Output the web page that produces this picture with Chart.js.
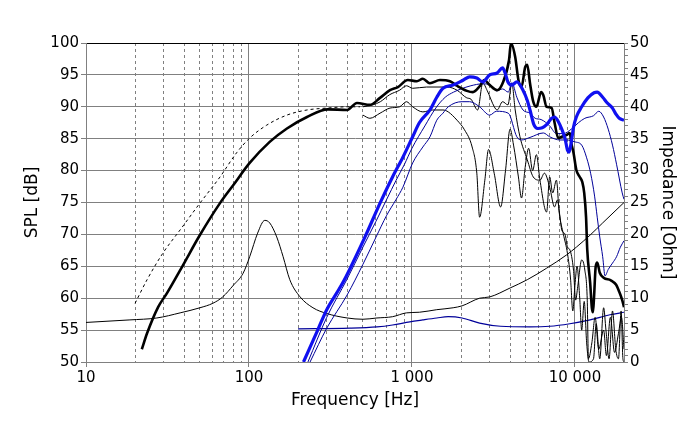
<!DOCTYPE html>
<html>
<head>
<meta charset="utf-8">
<script src="https://cdn.jsdelivr.net/npm/chart.js@4.4.0/dist/chart.umd.min.js"></script>
<style>
  body { margin: 0; background: #fff; }
  #wrap { width: 700px; height: 426px; }
</style>
</head>
<body>
<div id="wrap"><canvas id="chart" width="700" height="426"></canvas></div>
<script>
// grid / tick values
const xGridValues = [10, 20, 30, 40, 50, 60, 70, 80, 90,
  100, 200, 300, 400, 500, 600, 700, 800, 900,
  1000, 2000, 3000, 4000, 5000, 6000, 7000, 8000, 9000,
  10000, 20000];
const xLabelValues = [10, 100, 1000, 10000];
const xLabelTexts = ['10', '100', '1 000', '10 000'];

// main SPL (thick black)
const splMainFreq = [22, 23.7, 27.7, 31.4, 39.4, 50, 66.4, 80, 101, 134, 171, 227, 305, 400, 460, 552, 637, 733, 820, 944, 1072, 1166, 1288, 1485, 1710, 1888, 2174, 2366, 2600, 2780, 3000, 3330, 3600, 3940, 4050, 4300, 4500, 4700, 4950, 5100, 5300, 5550, 5800, 6200, 6400, 6700, 7200, 7500, 7900, 8300, 8900, 9300, 9500, 9800, 10200, 10700, 11100, 11400, 11700, 11900, 12400, 12700, 12900, 13100, 13400, 13700, 14200, 15000, 16600, 17900, 18700, 19500, 20000];
const splMainDb = [52, 54.5, 58.6, 60.8, 65.2, 69.9, 74.9, 77.7, 81.2, 84.5, 86.6, 88.4, 89.6, 89.5, 90.6, 90.3, 91.4, 92.6, 93.1, 94.2, 94.0, 94.4, 93.7, 94.2, 94.0, 93.3, 92.5, 92.3, 93.2, 94.2, 93.4, 92.6, 93.7, 97.3, 100, 97.8, 94.2, 93.1, 96.2, 96.6, 93.7, 90.8, 90.0, 92.3, 91.8, 90.0, 89.8, 87.5, 85.1, 85.3, 85.6, 85.9, 84.3, 82.8, 80.1, 79.0, 78.2, 76.5, 72.7, 67.6, 62.4, 58.5, 57.8, 60.2, 64.9, 65.6, 64.0, 63.2, 62.8, 62.1, 61.0, 59.7, 58.6];

// simulated low end (dashed)
const splSimFreq = [20, 23.7, 29.7, 37.8, 50, 66.4, 84, 101, 128, 171, 227, 300, 400, 480];
const splSimDb = [59.2, 62.9, 67.1, 70.7, 74.9, 79.0, 82.8, 85.1, 87.1, 88.7, 89.5, 89.8, 90.0, 90.0];

// off-axis woofer (thin black)
const offAFreq = [500, 575, 640, 730, 840, 925, 1010, 1230, 1650, 1890, 2170, 2300, 2530, 2720, 2900, 3200, 3330, 3600, 3880, 4100, 4300, 4600, 5100, 5550, 6100, 6500, 7000, 7500, 7800, 8100, 8300, 8700, 9000, 9300, 9800, 10100, 10400, 11000, 11500, 11900, 12100, 12700, 13300, 14000, 15000, 15600, 16500, 17500, 18500, 19300, 20000];
const offADb = [90.0, 90.3, 90.8, 91.9, 92.6, 93.3, 92.9, 93.1, 93.1, 92.6, 91.4, 91.2, 89.5, 93.7, 92.5, 90.0, 89.5, 90.8, 90.3, 93.7, 89.5, 85.3, 81.7, 79.0, 78.5, 79.6, 77.4, 74.3, 75.4, 72.7, 70.7, 70.0, 68.0, 67.6, 64.4, 59.7, 61.8, 66.0, 64.4, 59.7, 50.5, 53, 57, 52, 55, 51, 57, 51.5, 54.5, 57, 52];
const offBFreq = [500, 552, 637, 733, 840, 925, 1010, 1166, 1340, 1550, 1670, 1890, 2100, 2340, 2500, 2600, 2800, 2950, 3200, 3500, 3750, 4000, 4200, 4500, 4700, 4950, 5200, 5500, 5800, 6100, 6700, 7000, 7300, 7700, 8000, 8500, 9000, 9400, 9700, 10000, 10300, 10700, 11000, 11400, 11800, 12200, 13000, 13500, 14200, 15000, 15500, 16200, 17000, 17800, 18500, 19200, 19700, 20000];
const offBDb = [88.7, 88.2, 89.0, 89.8, 90.0, 90.8, 90.0, 89.2, 89.5, 89.5, 89.2, 87.9, 86.4, 83.7, 79.6, 72.7, 78.5, 83.3, 79.5, 74.3, 80, 86.5, 84, 79, 75.7, 80.5, 83.5, 80, 82.5, 78.5, 73.5, 79, 76.5, 78.5, 73.5, 70, 67, 63, 58, 62, 65, 60, 55, 59.5, 53, 50, 50.5, 56, 50.5, 58.5, 55, 50.5, 58, 52, 50.5, 58, 50.5, 50];

// woofer impedance (ohm)
const impWFreq = [10, 18.6, 27.2, 37.8, 50, 60, 69, 80, 92, 101, 113, 125, 134, 148, 162, 178, 206, 247, 300, 400, 500, 610, 760, 925, 1110, 1420, 1790, 2030, 2600, 3000, 4000, 5100, 6700, 8900, 10200, 12400, 14800, 20000];
const impWOhm = [6.2, 6.6, 6.9, 7.7, 8.5, 9.2, 10.2, 12.0, 13.9, 16.5, 20.2, 22.2, 21.8, 19.6, 16.5, 12.9, 10.2, 8.5, 7.6, 6.9, 6.7, 6.9, 7.1, 7.7, 7.8, 8.2, 8.5, 8.8, 10.0, 10.2, 11.6, 12.9, 14.7, 16.8, 18.0, 19.9, 21.8, 25.0];

// tweeter SPL (thick blue)
const twMainFreq = [216, 264, 300, 345, 385, 515, 637, 760, 880, 1010, 1110, 1290, 1420, 1550, 1790, 2070, 2260, 2500, 2720, 3000, 3330, 3600, 3730, 3880, 4100, 4400, 4800, 5100, 5300, 5600, 5900, 6300, 6700, 7200, 7500, 7900, 8300, 8700, 9000, 9200, 9500, 9800, 10200, 11000, 12000, 13100, 13700, 14800, 15800, 17000, 17900, 18700, 20000];
const twMainDb = [50, 55, 58.2, 60.8, 62.9, 69.6, 74.9, 79.0, 82.1, 85.3, 87.5, 89.5, 91.5, 92.9, 93.4, 94.2, 94.7, 94.5, 93.9, 95.0, 95.3, 96.1, 95.3, 93.9, 93.4, 93.9, 92.6, 91.0, 89.5, 87.2, 86.6, 86.7, 87.2, 88.2, 88.4, 87.7, 86.5, 85.0, 83.2, 82.9, 84.5, 86.8, 88.4, 90.0, 91.4, 92.2, 92.3, 91.5, 90.6, 89.8, 88.8, 88.2, 87.9];

// off-axis tweeter (thin navy)
const twOffAFreq = [230, 300, 400, 500, 600, 700, 800, 900, 1000, 1200, 1400, 1600, 1800, 2000, 2300, 2700, 3000, 3300, 3600, 3900, 4100, 4400, 4800, 5300, 5700, 6200, 7000, 7700, 8500, 9500, 10500, 11500, 13000, 14000, 15000, 16000, 17000, 18000, 19500, 20000];
const twOffADb = [50, 57, 63, 68, 72, 75.5, 78.5, 81, 83.5, 87, 89.8, 91.5, 92.3, 92.8, 93.3, 93.6, 93.5, 92.5, 92.8, 92.3, 93.8, 91.5, 89.5, 89, 88.2, 88, 87, 85.8, 85.8, 86.5, 87.5, 88.2, 88.6, 89.3, 88.4, 86.5, 84, 81, 76.5, 75.5];
const twOffBFreq = [237, 300, 400, 500, 600, 700, 800, 880, 1010, 1166, 1290, 1420, 1550, 1670, 2030, 2260, 2600, 3000, 3300, 3900, 4400, 4700, 5300, 6400, 7000, 8100, 8900, 10000, 11000, 11800, 12500, 13200, 13700, 14200, 14800, 15300, 16000, 17000, 18000, 19000, 20000];
const twOffBDb = [50, 55.3, 60.5, 65.3, 69.5, 73, 75.5, 77.4, 81.2, 83.7, 85.3, 87.9, 89.0, 90.0, 90.8, 90.8, 90.0, 88.7, 89.3, 89.0, 85.3, 84.8, 85.2, 85.9, 85.3, 84.8, 84.8, 84.5, 84.0, 82.0, 79.5, 76.0, 72.7, 69.6, 66.5, 63.5, 64.5, 65.5, 66.5, 68.0, 69.0];

// tweeter impedance (ohm)
const impTFreq = [200, 415, 610, 760, 970, 1166, 1420, 1670, 2030, 2600, 3500, 5300, 7000, 9300, 12400, 16400, 20000];
const impTOhm = [5.2, 5.3, 5.5, 5.8, 6.3, 6.6, 6.9, 7.1, 6.9, 6.1, 5.6, 5.5, 5.6, 6.0, 6.6, 7.4, 7.8];

const FONT = 'DejaVu Sans';
const GRID = '#808080';
const BLACK = '#000000';
const BLUE = '#1010f0';
const NAVY = '#000099';

function pts(freq, vals) {
  return freq.map((f, i) => ({ x: f, y: vals[i] }));
}

function line(data, color, width, axis, dash) {
  return {
    data: data,
    borderColor: color,
    borderWidth: width,
    borderDash: dash || [],
    yAxisID: axis || 'y',
    pointRadius: 0,
    fill: false,
    cubicInterpolationMode: 'monotone'
  };
}

const isDecade = v => xLabelValues.includes(v);

new Chart(document.getElementById('chart'), {
  type: 'line',
  data: {
    datasets: [
      line(pts(twMainFreq, twMainDb), BLUE, 3.2),
      line(pts(splMainFreq, splMainDb), BLACK, 2.6),
      line(pts(twOffAFreq, twOffADb), NAVY, 1),
      line(pts(twOffBFreq, twOffBDb), NAVY, 1),
      line(pts(offAFreq, offADb), BLACK, 1),
      line(pts(offBFreq, offBDb), BLACK, 1),
      line(pts(splSimFreq, splSimDb), BLACK, 1, 'y', [3, 3]),
      line(pts(impWFreq, impWOhm), BLACK, 1, 'y2'),
      line(pts(impTFreq, impTOhm), NAVY, 1.2, 'y2')
    ]
  },
  options: {
    responsive: false,
    animation: false,
    layout: { padding: { top: 43, left: 0, right: 0, bottom: 0 } },
    plugins: { legend: { display: false }, tooltip: { enabled: false } },
    scales: {
      x: {
        type: 'logarithmic',
        min: 10,
        max: 20000,
        afterBuildTicks: axis => { axis.ticks = xGridValues.map(v => ({ value: v })); },
        afterFit: axis => { axis.height = 64; },
        ticks: {
          autoSkip: false,
          maxRotation: 0,
          padding: 2,
          color: BLACK,
          font: { family: FONT, size: 15 },
          callback: v => isDecade(v) ? xLabelTexts[xLabelValues.indexOf(v)] : ''
        },
        grid: {
          color: GRID,
          lineWidth: 1,
          tickLength: 5,
          tickColor: ctx => ctx.tick && isDecade(ctx.tick.value) ? GRID : 'rgba(0,0,0,0)'
        },
        border: {
          color: GRID,
          dash: ctx => ctx.tick && !isDecade(ctx.tick.value) ? [3, 3] : []
        },
        title: {
          display: true,
          text: 'Frequency [Hz]',
          color: BLACK,
          font: { family: FONT, size: 17 },
          padding: { top: 0, bottom: 15 }
        }
      },
      y: {
        position: 'left',
        min: 50,
        max: 100,
        afterFit: axis => { axis.width = 86; },
        ticks: {
          stepSize: 5,
          padding: 2,
          color: BLACK,
          font: { family: FONT, size: 15 }
        },
        grid: {
          color: ctx => ctx.tick && ctx.tick.value === 100 ? BLACK : GRID,
          tickColor: GRID,
          tickLength: 5
        },
        border: { color: GRID },
        title: {
          display: true,
          text: 'SPL [dB]',
          color: BLACK,
          font: { family: FONT, size: 17 },
          padding: { top: 22, bottom: 0 }
        }
      },
      y2: {
        position: 'right',
        min: 0,
        max: 50,
        afterFit: axis => { axis.width = 76; },
        ticks: {
          stepSize: 1,
          autoSkip: false,
          padding: 2,
          color: BLACK,
          font: { family: FONT, size: 15 },
          callback: v => v % 5 === 0 ? String(v) : ''
        },
        grid: {
          drawOnChartArea: false,
          color: GRID,
          tickColor: GRID,
          tickLength: 4
        },
        border: { color: GRID },
        title: {
          display: true,
          text: 'Impedance [Ohm]',
          color: BLACK,
          font: { family: FONT, size: 17 },
          padding: { top: 22, bottom: 0 }
        }
      }
    }
  }
});
</script>
</body>
</html>
